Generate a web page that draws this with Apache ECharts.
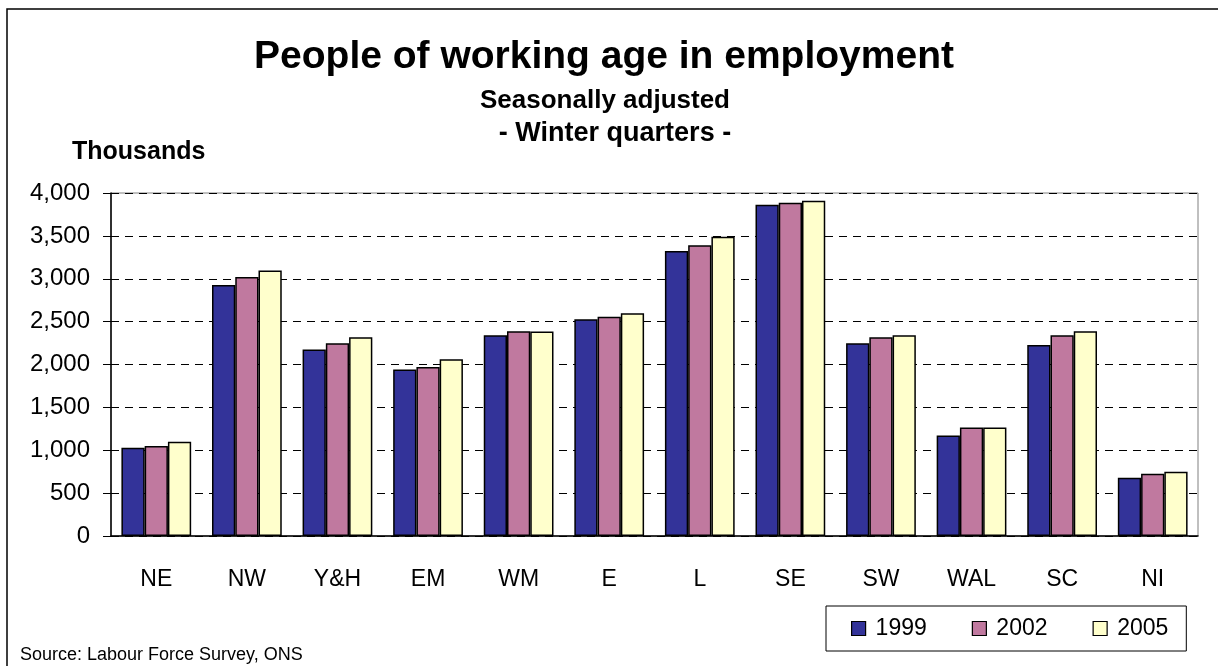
<!DOCTYPE html>
<html>
<head>
<meta charset="utf-8">
<script src="https://cdn.jsdelivr.net/npm/echarts@6/dist/echarts.min.js"></script>
<style>
  html, body { margin: 0; padding: 0; background: #fff; }
  #chart { width: 1218px; height: 666px; }
</style>
</head>
<body>
<div id="chart"></div>
<script>
const regions = ['NE', 'NW', 'Y&H', 'EM', 'WM', 'E', 'L', 'SE', 'SW', 'WAL', 'SC', 'NI']
const years = ['1999', '2002', '2005']
const values1999 = [1030, 2927, 2174, 1943, 2341, 2529, 3325, 3863, 2248, 1171, 2228, 679]
const values2002 = [1050, 3020, 2248, 1971, 2388, 2556, 3391, 3887, 2318, 1264, 2341, 726]
const values2005 = [1100, 3095, 2318, 2060, 2384, 2599, 3489, 3910, 2341, 1264, 2388, 749]
const yTicks = [0, 500, 1000, 1500, 2000, 2500, 3000, 3500, 4000]
const seriesColors = ['#333399', '#c0799f', '#ffffcc']

const font = 'Liberation Sans, Arial, sans-serif'
const chart = echarts.init(document.getElementById('chart'))

const seriesData = [values1999, values2002, values2005]

chart.setOption({
  animation: false,
  textStyle: { fontFamily: font, color: '#000' },
  graphic: [
    {
      type: 'rect',
      shape: { x: 7, y: 9, width: 1400, height: 800 },
      style: { fill: 'none', stroke: '#000', lineWidth: 1.5 },
      silent: true,
    },
    {
      type: 'text', x: 604, y: 57,
      style: { text: 'People of working age in employment', font: 'bold 39px ' + font, fill: '#000', align: 'center', verticalAlign: 'middle' },
    },
    {
      type: 'text', x: 605, y: 101,
      style: { text: 'Seasonally adjusted', font: 'bold 26px ' + font, fill: '#000', align: 'center', verticalAlign: 'middle' },
    },
    {
      type: 'text', x: 615, y: 134,
      style: { text: '- Winter quarters -', font: 'bold 27px ' + font, fill: '#000', align: 'center', verticalAlign: 'middle' },
    },
    {
      type: 'text', x: 72, y: 152,
      style: { text: 'Thousands', font: 'bold 25px ' + font, fill: '#000', align: 'left', verticalAlign: 'middle' },
    },
    {
      type: 'text', x: 20, y: 655,
      style: { text: 'Source: Labour Force Survey, ONS', font: '18px ' + font, fill: '#000', align: 'left', verticalAlign: 'middle' },
    },
  ],
  legend: {
    left: 826,
    top: 606,
    padding: [11, 18, 11, 25],
    borderColor: '#000',
    borderWidth: 1,
    icon: 'rect',
    itemWidth: 14,
    itemHeight: 14,
    itemGap: 45,
    data: years,
    itemStyle: { borderColor: '#000', borderWidth: 1.2 },
    textStyle: { fontFamily: font, fontSize: 23, color: '#000', padding: [0, 0, 0, 5] },
  },
  grid: {
    left: 111,
    right: 20,
    top: 193,
    bottom: 130,
    show: true,
    borderColor: '#808080',
    borderWidth: 1,
  },
  xAxis: {
    type: 'category',
    data: regions,
    axisLine: { lineStyle: { color: '#000', width: 1.5 } },
    axisTick: { length: 8, lineStyle: { color: '#000' } },
    axisLabel: { color: '#000', fontSize: 23, margin: 32, fontFamily: font },
  },
  yAxis: {
    type: 'value',
    min: yTicks[0],
    max: yTicks[yTicks.length - 1],
    interval: yTicks[1] - yTicks[0],
    axisLine: { show: true, lineStyle: { color: '#000', width: 1.5 } },
    axisTick: { show: true, length: 8, lineStyle: { color: '#000' } },
    axisLabel: {
      color: '#000', fontSize: 24, margin: 21, fontFamily: font,
      formatter: (v) => v.toLocaleString('en-GB'),
    },
    splitLine: { lineStyle: { color: '#000', type: [8, 6], width: 1 } },
  },
  series: years.map((year, i) => ({
    name: year,
    type: 'bar',
    data: seriesData[i],
    barGap: '0%',
    barCategoryGap: '23%',
    itemStyle: { color: seriesColors[i], borderColor: '#000', borderWidth: 1.5 },
  })),
})
</script>
</body>
</html>
